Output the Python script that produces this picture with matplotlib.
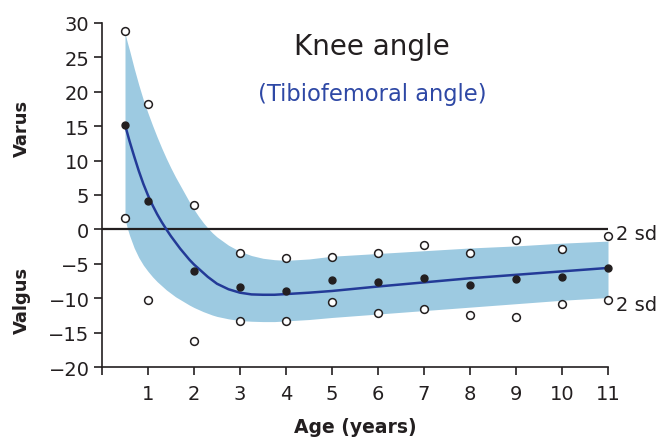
import matplotlib
matplotlib.use("Agg")
import matplotlib.pyplot as plt

# Observed values by age: mean and the +/- 2 sd points
ages = [0.5, 1, 2, 3, 4, 5, 6, 7, 8, 9, 10, 11]
mean_obs = [15.2, 4.1, -6.1, -8.3, -9.0, -7.3, -7.7, -7.0, -8.1, -7.2, -6.9, -5.6]
upper_obs = [28.9, 18.2, 3.6, -3.5, -4.2, -4.0, -3.5, -2.3, -3.4, -1.5, -2.8, -0.9]
lower_obs = [1.7, -10.2, -16.2, -13.3, -13.3, -10.5, -12.1, -11.5, -12.4, -12.8, -10.8, -10.2]

# Fitted mean curve and the 2 sd band around it
curve_age = [0.5, 0.55, 0.6, 0.7, 0.8, 0.9, 1.0, 1.1, 1.2, 1.3, 1.4, 1.5, 1.6, 1.7, 1.8,
             1.9, 2.0, 2.1, 2.2, 2.3, 2.4, 2.5, 2.75, 3.0, 3.25, 3.5, 3.75, 4.0, 4.5,
             5, 6, 7, 8, 9, 10, 11]
curve_mean = [15.2, 14.0, 12.8, 10.6, 8.5, 6.6, 4.95, 3.5, 2.2, 1.05, 0.0, -1.0, -1.9,
              -2.8, -3.6, -4.4, -5.1, -5.7, -6.3, -6.9, -7.4, -7.9, -8.7, -9.2, -9.45,
              -9.5, -9.5, -9.4, -9.2, -8.95, -8.3, -7.7, -7.1, -6.6, -6.1, -5.6]
curve_upper = [28.5, 27.2, 26.0, 23.4, 21.0, 18.8, 16.9, 15.1, 13.4, 11.8, 10.3, 8.9,
               7.6, 6.4, 5.2, 4.0, 2.9, 1.9, 1.0, 0.2, -0.5, -1.1, -2.3, -3.2, -3.8,
               -4.2, -4.4, -4.5, -4.3, -3.9, -3.5, -3.1, -2.7, -2.4, -2.0, -1.7]
curve_lower = [1.5, 0.2, -0.9, -2.7, -4.1, -5.2, -6.1, -6.9, -7.6, -8.2, -8.8, -9.3,
               -9.8, -10.2, -10.6, -11.0, -11.35, -11.65, -11.95, -12.2, -12.45, -12.65,
               -13.0, -13.25, -13.35, -13.4, -13.4, -13.3, -13.1, -12.8, -12.3, -11.8,
               -11.3, -10.8, -10.3, -9.9]

x_ticks = list(range(0, 12))
x_tick_labels = [""] + [str(v) for v in range(1, 12)]
y_ticks = list(range(-20, 31, 5))

DARK = "#231f20"
BAND = "#9dcae1"
LINE = "#233a97"
SUB = "#2e48a5"

fig = plt.figure(figsize=(6.59, 4.39), dpi=100)
ax = fig.add_axes([102 / 659, 1 - 368 / 439, (608 - 102) / 659, (368 - 24) / 439])

ax.fill_between(curve_age, curve_lower, curve_upper, color=BAND, lw=0, zorder=1)
ax.axhline(0, color=DARK, lw=1.6, zorder=2)
ax.plot(curve_age, curve_mean, color=LINE, lw=1.8, zorder=3,
        solid_capstyle="butt", solid_joinstyle="round")

ax.plot(ages, mean_obs, "o", ms=5, color=DARK, mec=DARK, zorder=4, clip_on=False)
ax.plot(ages, upper_obs, "o", ms=5.6, mfc="white", mec=DARK, mew=1.1, zorder=4, clip_on=False)
ax.plot(ages, lower_obs, "o", ms=5.6, mfc="white", mec=DARK, mew=1.1, zorder=4, clip_on=False)

ax.set_xlim(0, 11)
ax.set_ylim(-20, 30)
ax.set_xticks(x_ticks)
ax.set_xticklabels(x_tick_labels)
ax.set_yticks(y_ticks)

for side in ("top", "right"):
    ax.spines[side].set_visible(False)
for side in ("left", "bottom"):
    ax.spines[side].set_color(DARK)
    ax.spines[side].set_linewidth(1.2)
ax.tick_params(axis="both", direction="out", length=6, width=1.2, color=DARK,
               labelsize=14, labelcolor=DARK)
ax.tick_params(axis="x", pad=6)
ax.tick_params(axis="y", pad=3)

ax.set_xlabel("Age (years)", fontsize=13.5, fontweight="bold", color=DARK, labelpad=10)

fig.text(22 / 659, 1 - 128 / 439, "Varus", rotation=90, ha="center", va="center",
         fontsize=13, fontweight="bold", color=DARK)
fig.text(22 / 659, 1 - 300 / 439, "Valgus", rotation=90, ha="center", va="center",
         fontsize=13, fontweight="bold", color=DARK)

fig.text(372 / 659, 1 - 47 / 439, "Knee angle", ha="center", va="center",
         fontsize=20, color=DARK)
fig.text(372 / 659, 1 - 94 / 439, "(Tibiofemoral angle)", ha="center", va="center",
         fontsize=16.3, color=SUB)

fig.text(616 / 659, 1 - 235 / 439, "2 sd", ha="left", va="center", fontsize=14, color=DARK)
fig.text(616 / 659, 1 - 306 / 439, "2 sd", ha="left", va="center", fontsize=14, color=DARK)

fig.savefig("out.png", dpi=100)
